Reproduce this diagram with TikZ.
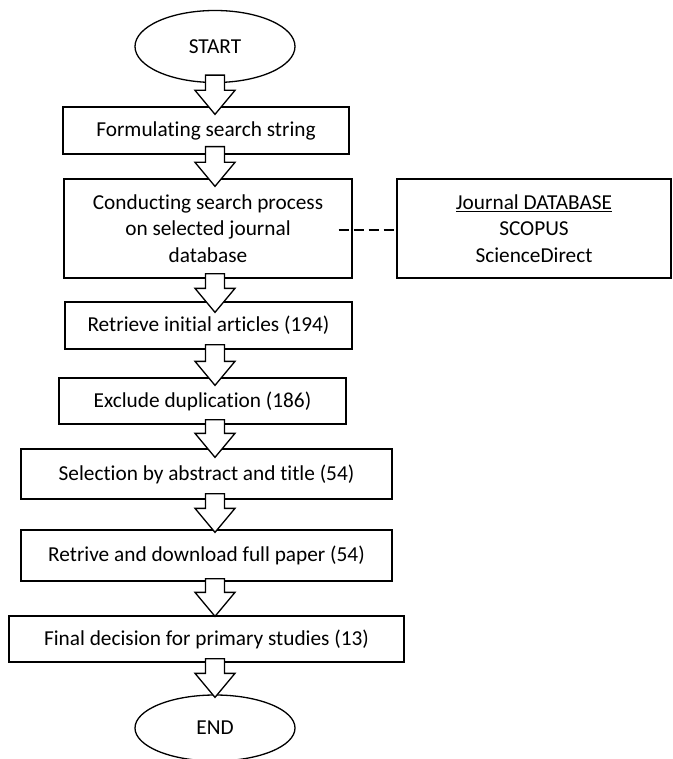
\documentclass[tikz,border=0pt]{standalone}
\usepackage{fontspec}
\setmainfont{Carlito}[Ligatures=NoCommon,RawFeature=-liga]
\usetikzlibrary{shapes.geometric,calc}
\begin{document}
\begin{tikzpicture}[x=1pt,y=-1pt,line width=1.3pt,
  txt/.style={font=\fontsize{21.3}{26.5}\selectfont},
  box/.style={draw,rectangle,inner sep=0pt,align=center,txt},
  term/.style={draw,ellipse,inner sep=0pt,txt},
  barrow/.style={draw,fill=white,line join=miter},
  dline/.style={dash pattern=on 10pt off 5pt}]
\useasboundingbox (0,0) rectangle (672,759);
% nodes
\node[term,minimum width=160pt,minimum height=72pt] (st) at (215,46.5) {START};
\node[box,minimum width=286pt,minimum height=47pt] (b1) at (206,130.5) {Formulating search string};
\node[box,minimum width=288pt,minimum height=99pt] (b2) at (208,228.5) {Conducting search process\\on selected journal\\database};
\node[box,minimum width=274pt,minimum height=99pt] (db) at (534,228.5) {\underline{Journal DATABASE}\\SCOPUS\\ScienceDirect};
\node[box,minimum width=287pt,minimum height=47pt] (r) at (208.5,325.5) {Retrieve initial articles (194)};
\node[box,minimum width=287pt,minimum height=46pt] (ex) at (202.5,401) {Exclude duplication (186)};
\node[box,minimum width=371pt,minimum height=50pt] (sel) at (206.5,474) {Selection by abstract and title (54)};
\node[box,minimum width=371pt,minimum height=51pt] (rt) at (206.5,555.5) {Retrive and download full paper (54)};
\node[box,minimum width=395pt,minimum height=46pt] (fin) at (206.5,639) {Final decision for primary studies (13)};
\node[term,minimum width=160pt,minimum height=66pt] (en) at (215,728) {END};
% dashed link
\draw[dline] ($(b2.east)+(-14pt,-1.5pt)$) -- ($(db.west)+(0,-1.5pt)$);
% block arrows: from #1 to #2, shaft starts #3 inside #1, tip ends #4 inside #2
\newcommand\blockarrow[4]{%
  \draw[barrow] let \p0=(st.center), \p1=(#1.south), \p2=(#2.north) in
    (\x0-9.5pt,\y1+#3) -- (\x0+9.5pt,\y1+#3) -- (\x0+9.5pt,\y2-#4+24pt)
    -- (\x0+20pt,\y2-#4+24pt) -- (\x0,\y2-#4) -- (\x0-20pt,\y2-#4+24pt)
    -- (\x0-9.5pt,\y2-#4+24pt) -- cycle;}
\blockarrow{st}{b1}{8pt}{8pt}
\blockarrow{b1}{b2}{8pt}{8pt}
\blockarrow{b2}{r}{5pt}{11pt}
\blockarrow{r}{ex}{5pt}{8pt}
\blockarrow{ex}{sel}{5pt}{9pt}
\blockarrow{sel}{rt}{6pt}{3pt}
\blockarrow{rt}{fin}{3pt}{1pt}
\blockarrow{fin}{en}{4pt}{3pt}
\end{tikzpicture}
\end{document}
